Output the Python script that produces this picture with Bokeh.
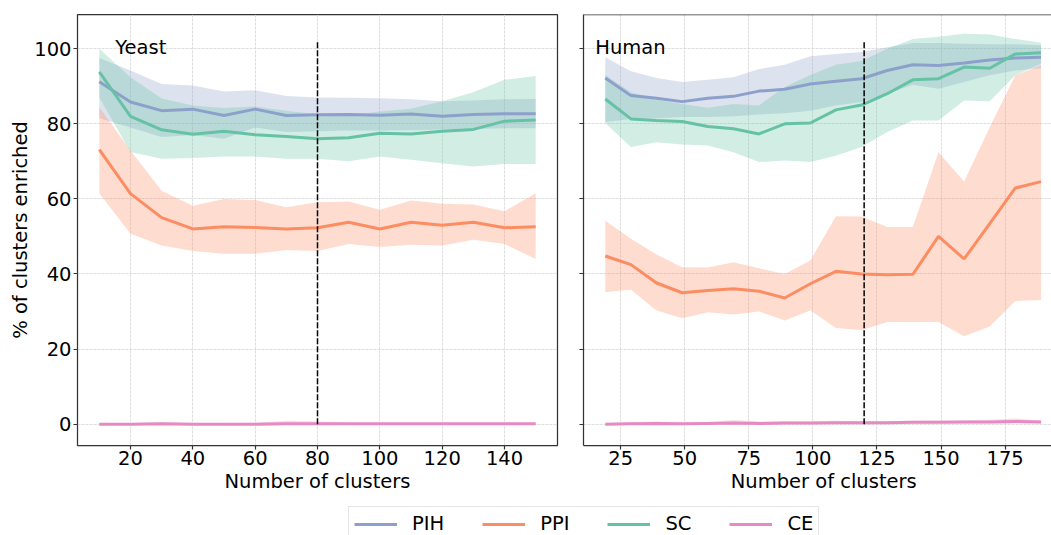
from bokeh.plotting import figure
from bokeh.layouts import column, row
from bokeh.models import Range1d, FixedTicker, Label, Legend, LegendItem, Span, CustomJSTickFormatter
from bokeh.embed import file_html
from bokeh.resources import INLINE

FONT = "DejaVu Sans"
FS = "19.5px"

# ---------------- data ----------------
methods = ["PIH", "PPI", "SC", "CE"]
colors = {"PIH": "#8da0cb", "PPI": "#fc8d62", "SC": "#66c2a5", "CE": "#e78ac3"}

# Yeast
yeast_k = [10, 20, 30, 40, 50, 60, 70, 80, 90, 100, 110, 120, 130, 140, 150]
yeast_pih = [91.2, 85.8, 83.5, 83.9, 82.2, 83.9, 82.2, 82.4, 82.5, 82.3, 82.6, 82.0, 82.5, 82.7, 82.7]
yeast_pih_hi = [97.5, 94.2, 90.6, 90.2, 88.6, 88.9, 87.4, 87.0, 86.9, 86.8, 86.5, 86.0, 86.2, 86.5, 86.6]
yeast_pih_lo = [81.5, 79.0, 76.5, 77.0, 76.0, 79.0, 77.8, 78.0, 78.2, 78.2, 78.3, 78.5, 78.6, 78.8, 78.8]
yeast_ppi = [73.1, 61.4, 55.0, 52.0, 52.6, 52.4, 52.0, 52.3, 53.8, 52.0, 53.8, 53.0, 53.8, 52.3, 52.6]
yeast_ppi_hi = [84.4, 72.9, 62.2, 58.2, 60.0, 59.7, 57.8, 59.1, 59.3, 57.1, 59.6, 58.7, 58.5, 56.7, 61.5]
yeast_ppi_lo = [61.5, 50.7, 47.6, 46.1, 45.4, 45.4, 46.4, 46.1, 48.0, 47.2, 47.8, 47.6, 49.1, 48.0, 44.0]
yeast_sc = [93.8, 82.0, 78.4, 77.2, 78.0, 77.1, 76.6, 76.0, 76.3, 77.5, 77.3, 78.0, 78.5, 80.7, 81.0]
yeast_sc_hi = [100.0, 92.4, 86.7, 84.9, 84.2, 84.6, 83.5, 82.5, 82.3, 83.3, 84.0, 86.0, 88.4, 91.7, 92.7]
yeast_sc_lo = [87.0, 72.5, 70.7, 70.9, 71.3, 71.3, 70.7, 70.7, 70.0, 71.3, 70.4, 69.5, 68.6, 69.3, 69.3]
yeast_ce = [0.0, 0.0, 0.1, 0.0, 0.0, 0.0, 0.1, 0.1, 0.1, 0.1, 0.1, 0.1, 0.1, 0.1, 0.1]
yeast_ce_hi = [0.2, 0.3, 0.5, 0.3, 0.3, 0.4, 0.9, 0.7, 0.4, 0.3, 0.3, 0.3, 0.3, 0.3, 0.4]
yeast_ce_lo = [0.0] * 15
yeast_cut = 80

# Human
human_k = [19, 29, 39, 49, 59, 69, 79, 89, 99, 109, 119, 129, 139, 149, 159, 169, 179, 189]
human_pih = [92.2, 87.5, 86.8, 85.9, 86.8, 87.3, 88.7, 89.2, 90.6, 91.3, 92.0, 94.2, 95.7, 95.5, 96.2, 97.0, 97.5, 97.7]
human_pih_hi = [97.7, 94.0, 92.2, 91.1, 91.7, 92.4, 94.6, 95.7, 98.0, 98.6, 99.1, 100.4, 101.5, 101.5, 101.3, 101.2, 101.2, 100.9]
human_pih_lo = [80.5, 81.3, 81.5, 81.8, 81.8, 82.0, 82.5, 82.8, 83.5, 84.9, 85.8, 88.0, 90.4, 89.3, 91.1, 92.9, 94.2, 94.8]
human_ppi = [44.8, 42.5, 37.6, 35.0, 35.6, 36.1, 35.4, 33.6, 37.4, 40.7, 40.0, 39.8, 39.9, 50.0, 44.0, 53.4, 62.9, 64.6]
human_ppi_hi = [54.2, 49.4, 45.2, 41.8, 41.7, 43.1, 41.5, 40.0, 43.6, 55.4, 55.3, 52.5, 52.5, 72.4, 64.6, 79.1, 92.9, 95.5]
human_ppi_lo = [35.2, 35.8, 30.3, 28.2, 29.8, 29.2, 30.0, 27.6, 30.3, 25.6, 25.0, 27.2, 27.2, 27.2, 23.4, 26.0, 32.8, 33.1]
human_sc = [86.6, 81.3, 80.9, 80.6, 79.3, 78.7, 77.3, 80.0, 80.2, 83.7, 85.0, 88.0, 91.7, 92.0, 95.1, 94.8, 98.6, 98.9]
human_sc_hi = [93.0, 88.4, 86.4, 85.3, 84.3, 85.3, 84.9, 89.8, 93.0, 95.7, 96.7, 100.0, 102.6, 103.2, 104.0, 103.8, 102.6, 101.6]
human_sc_lo = [80.2, 73.8, 75.1, 74.5, 74.2, 72.4, 69.8, 70.2, 69.8, 71.5, 73.8, 77.8, 80.9, 80.9, 86.2, 86.0, 92.9, 96.0]
human_ce = [0.0, 0.1, 0.2, 0.1, 0.2, 0.3, 0.2, 0.3, 0.3, 0.4, 0.4, 0.4, 0.5, 0.5, 0.6, 0.6, 0.7, 0.6]
human_ce_hi = [0.3, 0.5, 0.7, 0.4, 0.6, 1.1, 0.7, 0.8, 0.7, 0.9, 0.8, 0.8, 0.9, 1.0, 1.0, 1.2, 1.5, 1.0]
human_ce_lo = [0.0, 0.0, 0.0, 0.0, 0.0, 0.0, 0.0, 0.0, 0.0, 0.1, 0.1, 0.1, 0.2, 0.2, 0.2, 0.2, 0.2, 0.2]
human_cut = 120

cut_top = 102
y_ticks = [0, 20, 40, 60, 80, 100]
yeast_ticks = [20, 40, 60, 80, 100, 120, 140]
human_ticks = [25, 50, 75, 100, 125, 150, 175]

yeast = {
    "PIH": (yeast_pih, yeast_pih_lo, yeast_pih_hi),
    "PPI": (yeast_ppi, yeast_ppi_lo, yeast_ppi_hi),
    "SC": (yeast_sc, yeast_sc_lo, yeast_sc_hi),
    "CE": (yeast_ce, yeast_ce_lo, yeast_ce_hi),
}
human = {
    "PIH": (human_pih, human_pih_lo, human_pih_hi),
    "PPI": (human_ppi, human_ppi_lo, human_ppi_hi),
    "SC": (human_sc, human_sc_lo, human_sc_hi),
    "CE": (human_ce, human_ce_lo, human_ce_hi),
}

SPINE = "#333333"
GRID = "#d6d6d6"
Y_RANGE = (-5.67, 109.1)
PANEL_H = 497


def panel(width, border_left, border_right, x_range, xticks, ks, series, title, cut, show_ylabels):
    p = figure(width=width, height=PANEL_H, x_range=Range1d(*x_range), y_range=Range1d(*Y_RANGE),
               output_backend="svg", toolbar_location=None,
               min_border_left=border_left, min_border_right=border_right,
               min_border_top=14, min_border_bottom=PANEL_H - 14 - 431)
    p.background_fill_color = "white"
    p.border_fill_color = "white"
    for ax in (p.xaxis[0], p.yaxis[0]):
        ax.major_tick_in = 0
        ax.major_tick_out = 4
        ax.minor_tick_line_color = None
        ax.major_tick_line_color = SPINE
        ax.major_tick_line_width = 1.2
        ax.major_label_text_font = FONT
        ax.major_label_text_font_size = FS
        ax.major_label_text_color = "black"
    p.xaxis.ticker = FixedTicker(ticks=xticks)
    p.yaxis.ticker = FixedTicker(ticks=y_ticks)
    p.xaxis.major_label_standoff = 1
    p.yaxis.major_label_standoff = 2
    if not show_ylabels:
        p.yaxis.formatter = CustomJSTickFormatter(code="return ''")
        p.yaxis.major_label_standoff = 0
    p.xaxis.axis_label_text_font = FONT
    p.xaxis.axis_label_text_font_size = FS
    p.xaxis.axis_label_text_font_style = "normal"
    p.xaxis.axis_label_text_color = "black"
    p.xaxis.axis_label_standoff = 2
    for g in (p.xgrid[0], p.ygrid[0]):
        g.grid_line_color = GRID
        g.grid_line_dash = [3, 1]
        g.grid_line_width = 0.8

    # confidence bands sit underneath every mean line
    for m in methods:
        mean, lo, hi = series[m]
        p.varea(x=ks, y1=lo, y2=hi, fill_color=colors[m], fill_alpha=0.3)
    for m in methods:
        mean, lo, hi = series[m]
        p.line(ks, mean, line_color=colors[m], line_width=3)

    p.segment(x0=[cut], y0=[0], x1=[cut], y1=[cut_top], line_color="black",
              line_width=1.5, line_dash="6 2")

    p.add_layout(Label(x=15.1, y=100.3, text=title, text_font=FONT, text_font_size=FS,
                       text_baseline="alphabetic", text_color="black"))
    return p


p1 = panel(570, 77, 13, (3, 157), yeast_ticks, yeast_k, yeast, "Yeast", yeast_cut, True)
p1.outline_line_color = SPINE
p1.outline_line_width = 1.25
p1.xaxis.axis_line_color = None
p1.yaxis.axis_line_color = None
p1.xaxis.axis_label = "Number of clusters"
p1.yaxis.axis_label = "% of clusters enriched"
p1.yaxis.axis_label_text_font = FONT
p1.yaxis.axis_label_text_font_size = FS
p1.yaxis.axis_label_text_font_style = "normal"
p1.yaxis.axis_label_text_color = "black"
p1.yaxis.axis_label_standoff = -1

p2 = panel(481, 13, 0, (10.5, 193.1), human_ticks, human_k, human, "Human", human_cut, False)
p2.outline_line_color = None
p2.xaxis.axis_line_color = SPINE
p2.xaxis.axis_line_width = 1.25
p2.yaxis.axis_line_color = SPINE
p2.yaxis.axis_line_width = 1.25
# the panel continues a little past the right edge, so the label is nudged to its centre
p2.xaxis.axis_label = "\u00a0\u00a0Number of clusters"
p2.add_layout(Span(location=Y_RANGE[1], dimension="width", line_color=SPINE, line_width=1.25))

# shared legend below both panels
p3 = figure(width=1051, height=535 - PANEL_H, x_range=Range1d(0, 1), y_range=Range1d(0, 1),
            output_backend="svg", toolbar_location=None,
            min_border_left=0, min_border_right=0, min_border_top=0, min_border_bottom=0)
p3.axis.visible = False
p3.grid.visible = False
p3.outline_line_color = None
items = []
for m in methods:
    r = p3.line(x=[-5, -4], y=[-5, -5], line_color=colors[m], line_width=3)
    items.append(LegendItem(label=m, renderers=[r]))
legend = Legend(items=items, orientation="horizontal", location=(348, -6),
                glyph_width=43, glyph_height=20, label_standoff=15, spacing=38, padding=5,
                label_text_font=FONT, label_text_font_size=FS, label_text_color="black",
                border_line_color="#cccccc", border_line_width=1,
                background_fill_alpha=0.8)
p3.add_layout(legend)

layout = column(row(p1, p2), p3)
open("out.html", "w").write(file_html(layout, INLINE))
